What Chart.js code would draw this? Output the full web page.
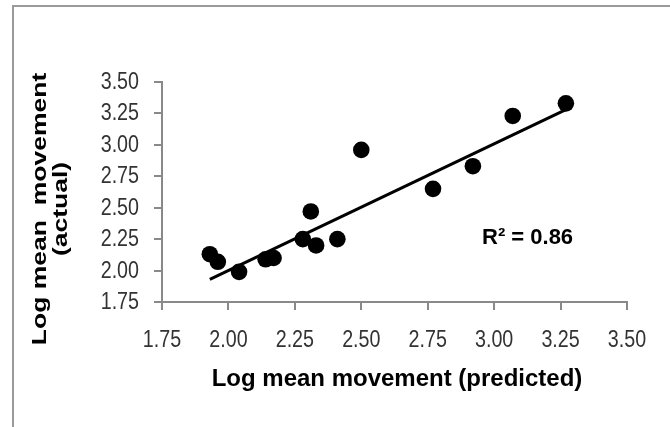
<!DOCTYPE html>
<html>
<head>
<meta charset="utf-8">
<script src="https://cdn.jsdelivr.net/npm/chart.js@4/dist/chart.umd.min.js"></script>
<style>
  html, body { margin: 0; padding: 0; background: #fff; }
  #wrap { width: 670px; height: 427px; position: relative; }
</style>
</head>
<body>
<div id="wrap"><canvas id="chart"></canvas></div>
<script>
// values
const predicted = [1.93, 1.96, 2.04, 2.14, 2.17, 2.28, 2.31, 2.33, 2.41, 2.50, 2.77, 2.92, 3.07, 3.27];
const actual = [2.13, 2.07, 1.99, 2.09, 2.10, 2.25, 2.47, 2.20, 2.25, 2.96, 2.65, 2.83, 3.23, 3.33];
const trendX = [1.93, 3.27];
const trendY = [1.93, 3.28];
const axisMin = 1.75;
const axisMax = 3.5;
const axisStep = 0.25;
const yTitleLines = ["Log mean  movement", "(actual)"];
const xTitle = "Log mean movement (predicted)";
const rSquaredLabel = "R\u00b2 = 0.86";

const axisGray = "#898989";
const sansFamily = "'Liberation Sans', Arial, sans-serif";

const toPoints = (xs, ys) => xs.map((x, i) => ({ x, y: ys[i] }));

// narrow-looking text: no condensed face installed, so squeeze it
const drawNarrow = (ctx, text, x, y, align, squeeze) => {
  ctx.save();
  ctx.translate(x, y);
  ctx.scale(squeeze, 1);
  ctx.textAlign = align;
  ctx.fillText(text, 0, 0);
  ctx.restore();
};

// tick labels, frame, titles and the R² note
const decorations = {
  id: "decorations",
  afterDraw(chart) {
    const ctx = chart.ctx;
    const { x: xScale, y: yScale } = chart.scales;
    ctx.save();
    ctx.strokeStyle = "#9a9a9a";
    ctx.lineWidth = 2;
    ctx.strokeRect(13, 6, 700, 440);

    ctx.fillStyle = "#333";
    ctx.font = `24px ${sansFamily}`;
    ctx.textBaseline = "alphabetic";
    xScale.ticks.forEach((t, i) => {
      drawNarrow(ctx, t.label, xScale.getPixelForTick(i), 347, "center", 0.82);
    });
    yScale.ticks.forEach((t, i) => {
      drawNarrow(ctx, t.label, 139, yScale.getPixelForTick(i) + 7, "right", 0.82);
    });

    ctx.fillStyle = "#000";
    ctx.font = `bold 24px ${sansFamily}`;
    ctx.textAlign = "center";
    ctx.fillText(xTitle, 397, 386);

    ctx.font = `bold 22px ${sansFamily}`;
    ctx.textAlign = "left";
    ctx.fillText(rSquaredLabel, 482, 244);

    ctx.translate(0, 209);
    ctx.rotate(-Math.PI / 2);
    ctx.scale(1, 0.78);
    ctx.textAlign = "center";
    ctx.font = `bold 26.5px ${sansFamily}`;
    ctx.fillText(yTitleLines[0], 0, 59);
    ctx.fillText(yTitleLines[1], 0, 86.5);
    ctx.restore();
  },
};

const axisOptions = () => ({
  type: "linear",
  min: axisMin,
  max: axisMax,
  grid: { drawOnChartArea: false, drawTicks: true, tickLength: 8, color: axisGray, lineWidth: 2 },
  border: { color: axisGray, width: 2 },
  ticks: {
    display: false,
    autoSkip: false,
    stepSize: axisStep,
    callback: (v) => Number(v).toFixed(2),
  },
});

new Chart(document.getElementById("chart"), {
  type: "scatter",
  data: {
    datasets: [
      {
        label: "Trend",
        type: "line",
        data: toPoints(trendX, trendY),
        borderColor: "#000",
        borderWidth: 3,
        pointRadius: 0,
        fill: false,
      },
      {
        label: "Log mean movement",
        data: toPoints(predicted, actual),
        backgroundColor: "#000",
        borderWidth: 0,
        pointRadius: 8.3,
        pointHoverRadius: 8.3,
      },
    ],
  },
  options: {
    responsive: true,
    maintainAspectRatio: false,
    animation: false,
    layout: { padding: { top: 82, right: 43, left: 0, bottom: 0 } },
    scales: {
      x: {
        ...axisOptions(),
        afterFit: (scale) => { scale.height = 125; },
      },
      y: {
        ...axisOptions(),
        afterFit: (scale) => { scale.width = 162; },
      },
    },
    plugins: {
      legend: { display: false },
      tooltip: { enabled: false },
    },
  },
  plugins: [decorations],
});
</script>
</body>
</html>
